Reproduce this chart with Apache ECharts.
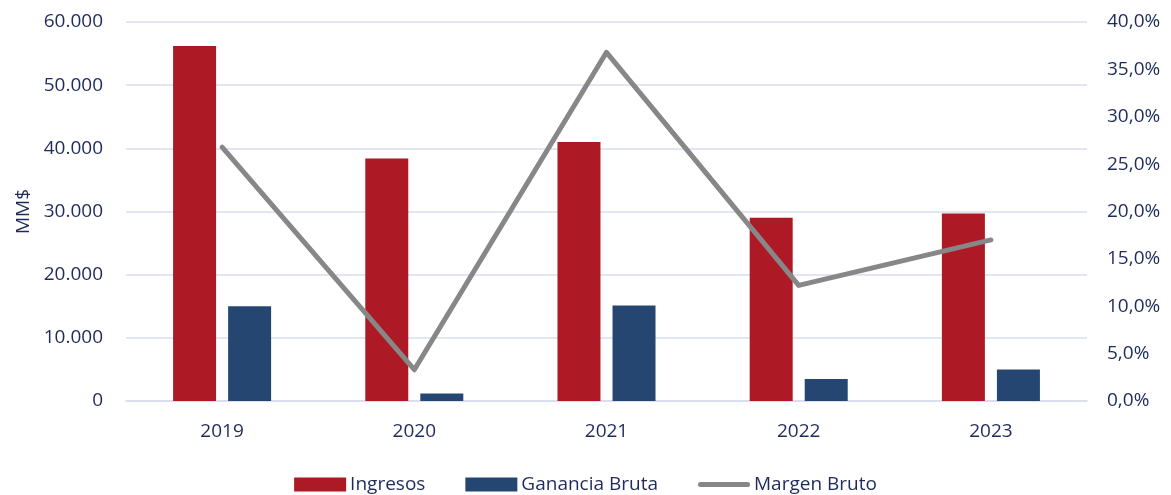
<!DOCTYPE html>
<html>
<head>
<meta charset="utf-8">
<script src="https://cdn.jsdelivr.net/npm/echarts@6/dist/echarts.min.js"></script>
<style>html,body{margin:0;padding:0;background:#fff}#c{width:1171px;height:495px}</style>
</head>
<body>
<div id="c"></div>
<script>
const categories = ['2019', '2020', '2021', '2022', '2023'];
const ingresos = [56200, 38400, 41000, 29000, 29700];
const gananciaBruta = [15000, 1200, 15100, 3500, 5000];
const margenBruto = [26.8, 3.3, 36.8, 12.2, 17.0];

const textColor = '#1E2B5B';
const font = '"Open Sans", "Noto Sans", sans-serif';
const chart = echarts.init(document.getElementById('c'), null, {renderer: 'canvas'});
chart.setOption({
  animation: false,
  textStyle: {fontFamily: font, color: textColor},
  grid: {left: 126, right: 84, top: 22, bottom: 94, containLabel: false},
  legend: {
    bottom: -4,
    left: 'center',
    itemWidth: 52,
    itemHeight: 14,
    itemGap: 40,
    symbolKeepAspect: true,
    textStyle: {fontSize: 19, color: textColor, fontFamily: font, padding: [0, 0, 0, -1]},
    data: [
      {name: 'Ingresos', icon: 'rect'},
      {name: 'Ganancia Bruta', icon: 'rect'},
      {name: 'Margen Bruto', icon: 'path://M2.5,0 L49.5,0 A2.5,2.5 0 0 1 49.5,5 L2.5,5 A2.5,2.5 0 0 1 2.5,0 Z',
       itemStyle: {color: '#878787'}}
    ]
  },
  xAxis: {
    type: 'category',
    data: categories,
    axisTick: {show: false},
    axisLine: {lineStyle: {color: '#D9DCEE', width: 1.5}},
    axisLabel: {fontSize: 19, color: textColor, margin: 21, fontFamily: font}
  },
  yAxis: [
    {
      type: 'value', min: 0, max: 60000, interval: 10000,
      name: 'MM$', nameLocation: 'middle', nameGap: 93, nameRotate: 90,
      nameTextStyle: {fontSize: 19, color: textColor, fontFamily: font},
      axisLine: {show: false}, axisTick: {show: false},
      splitLine: {lineStyle: {color: '#D9DCEE', width: 1.5}},
      axisLabel: {
        fontSize: 19, color: textColor, margin: 23, fontFamily: font,
        formatter: v => v === 0 ? '0' : String(v).replace(/\B(?=(\d{3})+(?!\d))/g, '.')
      }
    },
    {
      type: 'value', min: 0, max: 40, interval: 5,
      axisLine: {show: false}, axisTick: {show: false},
      splitLine: {show: false},
      axisLabel: {
        fontSize: 19, color: textColor, margin: 20, fontFamily: font,
        formatter: v => v.toFixed(1).replace('.', ',') + '%'
      }
    }
  ],
  series: [
    {
      name: 'Ingresos', type: 'bar', data: ingresos, barWidth: 43, barGap: '28%',
      itemStyle: {color: '#AD1924'}
    },
    {
      name: 'Ganancia Bruta', type: 'bar', data: gananciaBruta, barWidth: 43,
      itemStyle: {color: '#264672'}
    },
    {
      name: 'Margen Bruto', type: 'line', yAxisIndex: 1, data: margenBruto,
      symbol: 'none', lineStyle: {color: '#878787', width: 5, cap: 'round', join: 'round'},
      itemStyle: {color: '#878787'}
    }
  ]
});
</script>
</body>
</html>
